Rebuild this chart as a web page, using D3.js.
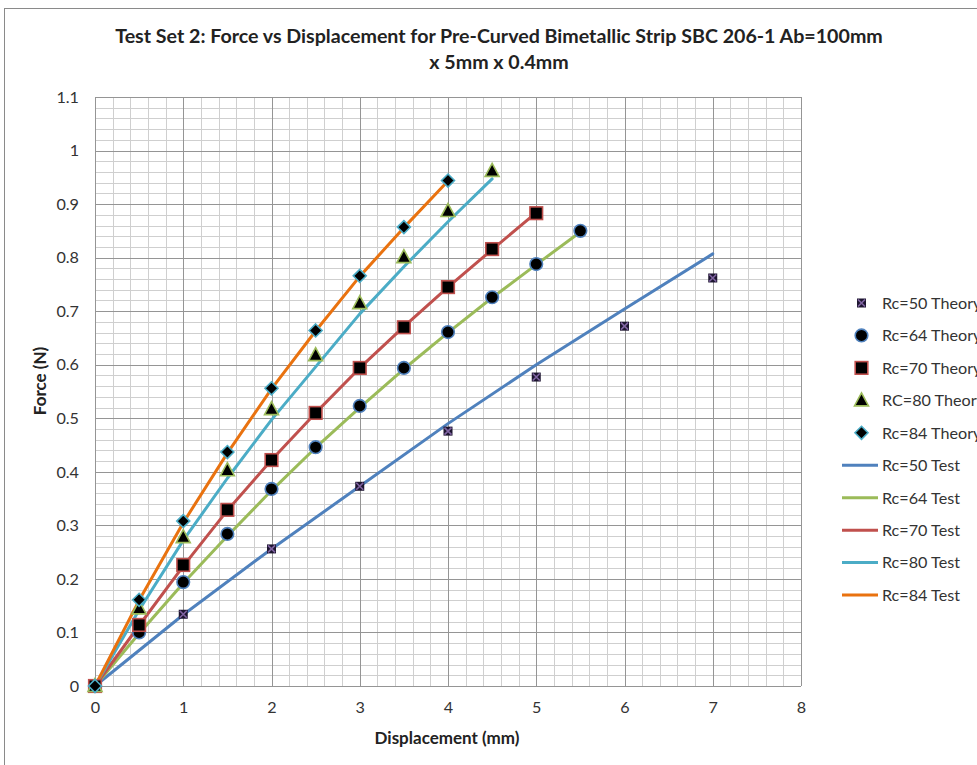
<!DOCTYPE html>
<html><head><meta charset="utf-8">
<script src="https://cdn.jsdelivr.net/npm/d3@7"></script>
<style>body{margin:0;background:#fff;} svg{display:block;font-family:Lato,"Open Sans",sans-serif;}</style>
</head><body>
<svg id="c" width="977" height="765"></svg>
<script>
// ---- data ----
const titleLines = ["Test Set 2: Force vs Displacement for Pre-Curved Bimetallic Strip SBC 206-1 Ab=100mm", "x 5mm x 0.4mm"];
const xTicks = [0,1,2,3,4,5,6,7,8];
const yTicks = [0,0.1,0.2,0.3,0.4,0.5,0.6,0.7,0.8,0.9,1,1.1];
const yTickLabels = ["0","0.1","0.2","0.3","0.4","0.5","0.6","0.7","0.8","0.9","1","1.1"];

const theory50X = [0,1,2,3,4,5,6,7];
const theory50Y = [0,0.134,0.256,0.373,0.476,0.577,0.672,0.762];
const theory64X = [0,0.5,1,1.5,2,2.5,3,3.5,4,4.5,5,5.5];
const theory64Y = [0,0.100,0.194,0.284,0.368,0.446,0.523,0.594,0.661,0.726,0.788,0.850];
const theory70X = [0,0.5,1,1.5,2,2.5,3,3.5,4,4.5,5];
const theory70Y = [0,0.114,0.226,0.329,0.422,0.510,0.594,0.670,0.745,0.816,0.883];
const theory80X = [0,0.5,1,1.5,2,2.5,3,3.5,4,4.5];
const theory80Y = [0,0.145,0.278,0.403,0.517,0.618,0.715,0.801,0.887,0.962];
const theory84X = [0,0.5,1,1.5,2,2.5,3,3.5,4];
const theory84Y = [0,0.161,0.308,0.437,0.556,0.664,0.766,0.857,0.944];

const test50X = [0,1,2,3,4,5,6,7];
const test50Y = [0,0.133,0.256,0.373,0.490,0.600,0.704,0.807];
const test64X = [0,0.5,1,1.5,2,2.5,3,3.5,4,4.5,5,5.5];
const test64Y = [0,0.098,0.192,0.280,0.365,0.445,0.520,0.592,0.660,0.725,0.787,0.848];
const test70X = [0,0.5,1,1.5,2,2.5,3,3.5,4,4.5,5];
const test70Y = [0,0.113,0.224,0.328,0.422,0.510,0.594,0.671,0.745,0.815,0.884];
const test80X = [0,0.5,1,1.5,2,2.5,3,3.5,4,4.5];
const test80Y = [0,0.142,0.272,0.388,0.497,0.596,0.695,0.783,0.867,0.947];
const test84X = [0,0.5,1,1.5,2,2.5,3,3.5,4];
const test84Y = [0,0.160,0.305,0.435,0.555,0.663,0.765,0.856,0.943];

const theoryNames = ["Rc=50 Theory","Rc=64 Theory","Rc=70 Theory","RC=80 Theory","Rc=84 Theory"];
const testNames = ["Rc=50 Test","Rc=64 Test","Rc=70 Test","Rc=80 Test","Rc=84 Test"];
const lineColors = ["#4F81BD","#9BBB59","#C0504D","#4BACC6","#E9720F"];
const markerStrokes = ["#8064A2","#4F81BD","#C0504D","#9BBB59","#4BACC6"];
const markerTypes = ["xsquare","circle","square","triangle","diamond"];

// ---- build ----
const zip = (xs, ys) => xs.map((x,i)=>({x, y: ys[i]}));
const theory = [zip(theory50X,theory50Y),zip(theory64X,theory64Y),zip(theory70X,theory70Y),zip(theory80X,theory80Y),zip(theory84X,theory84Y)];
const tests = [zip(test50X,test50Y),zip(test64X,test64Y),zip(test70X,test70Y),zip(test80X,test80Y),zip(test84X,test84Y)];

const svg = d3.select("#c");
const L = 95, R = 801, T = 97, B = 686;
const x = d3.scaleLinear().domain([0,8]).range([L,R]);
const y = d3.scaleLinear().domain([0,1.1]).range([B,T]);

function fitWidth(sel, baseSize, target){
  const w = sel.node().getComputedTextLength();
  return w > 0 ? baseSize*target/w : baseSize;
}

// chart frame
svg.append("rect").attr("x",4.5).attr("y",8.5).attr("width",1000).attr("height",800)
  .attr("fill","#fff").attr("stroke","#8a8a8a").attr("stroke-width",1);

// minor grid
const g = svg.append("g");
const minorX = d3.range(0,41).map(i=>i*0.2);
const minorY = d3.range(0,56).map(i=>i*0.02);
g.selectAll("line.mx").data(minorX).join("line")
  .attr("x1",d=>Math.round(x(d))+0.5).attr("x2",d=>Math.round(x(d))+0.5).attr("y1",T).attr("y2",B)
  .attr("stroke","#cfcfcf").attr("stroke-width",1);
g.selectAll("line.my").data(minorY).join("line")
  .attr("y1",d=>Math.round(y(d))+0.5).attr("y2",d=>Math.round(y(d))+0.5).attr("x1",L).attr("x2",R)
  .attr("stroke","#cfcfcf").attr("stroke-width",1);
// major grid
g.selectAll("line.Mx").data(xTicks).join("line")
  .attr("x1",d=>Math.round(x(d))+0.5).attr("x2",d=>Math.round(x(d))+0.5).attr("y1",T).attr("y2",B)
  .attr("stroke","#959595").attr("stroke-width",1);
g.selectAll("line.My").data(yTicks).join("line")
  .attr("y1",d=>Math.round(y(d))+0.5).attr("y2",d=>Math.round(y(d))+0.5).attr("x1",L).attr("x2",R)
  .attr("stroke","#959595").attr("stroke-width",1);

// legend font size measured from a sample
const probe = svg.append("text").attr("font-size",15).text(testNames[0]);
const legFont = fitWidth(probe, 15, 78);
probe.remove();

// axes (tick labels only)
const xAxis = d3.axisBottom(x).tickValues(xTicks).tickFormat(d3.format("d")).tickSize(0).tickPadding(16);
const yAxis = d3.axisLeft(y).tickValues(yTicks).tickFormat((d,i)=>yTickLabels[i]).tickSize(0).tickPadding(16);
const gx = svg.append("g").attr("transform",`translate(0,${B})`).call(xAxis);
const gy = svg.append("g").attr("transform",`translate(${L},0)`).call(yAxis);
[gx,gy].forEach(a=>{a.select(".domain").remove();
  a.selectAll("text").attr("font-size",legFont).attr("fill","#333").attr("font-family","Lato,'Open Sans',sans-serif");});

// axis titles
const xt = svg.append("text").attr("x",447).attr("y",744).attr("text-anchor","middle")
  .attr("font-size",15).attr("font-weight","bold").attr("fill","#222").text("Displacement (mm)");
const axFont = fitWidth(xt, 15, 145);
xt.attr("font-size", axFont);
svg.append("text").attr("transform","translate(46,381) rotate(-90)").attr("text-anchor","middle")
  .attr("font-size",axFont).attr("font-weight","bold").attr("fill","#222").text("Force (N)");

// title
const tt = svg.append("text").attr("text-anchor","middle").attr("font-weight","bold").attr("font-size",18).attr("fill","#222");
tt.append("tspan").attr("x",499).attr("y",43).text(titleLines[0]);
tt.append("tspan").attr("x",499).attr("y",69).text(titleLines[1]);
tt.attr("font-size", fitWidth(tt.select("tspan"), 18, 768));

// lines
const line = d3.line().x(d=>x(d.x)).y(d=>y(d.y));
svg.append("g").selectAll("path").data(tests).join("path")
  .attr("d",line).attr("fill","none").attr("stroke",(d,i)=>lineColors[i]).attr("stroke-width",3)
  .attr("stroke-linejoin","round").attr("stroke-linecap","round");

// markers
function drawMarker(sel, type, color){
  if(type==="xsquare"){
    sel.append("rect").attr("x",-4.5).attr("y",-4.5).attr("width",9).attr("height",9).attr("fill","#1d1530");
    sel.append("path").attr("d","M-3.5,-3.5L3.5,3.5M-3.5,3.5L3.5,-3.5").attr("stroke",color).attr("stroke-width",1.6);
  } else if(type==="circle"){
    sel.append("circle").attr("r",6.3).attr("fill","#000").attr("stroke",color).attr("stroke-width",1.6);
  } else if(type==="square"){
    sel.append("rect").attr("x",-6.3).attr("y",-6.3).attr("width",12.6).attr("height",12.6).attr("fill","#000").attr("stroke",color).attr("stroke-width",1.6);
  } else if(type==="triangle"){
    sel.append("path").attr("d","M0,-7.5L7,5.5L-7,5.5Z").attr("fill","#000").attr("stroke",color).attr("stroke-width",1.6);
  } else if(type==="diamond"){
    sel.append("path").attr("d","M0,-6.5L6.5,0L0,6.5L-6.5,0Z").attr("fill","#000").attr("stroke",color).attr("stroke-width",1.6);
  }
}
theory.forEach((pts,i)=>{
  svg.append("g").selectAll("g").data(pts).join("g")
    .attr("transform",d=>`translate(${x(d.x)},${y(d.y)})`)
    .each(function(){ drawMarker(d3.select(this), markerTypes[i], markerStrokes[i]); });
});

// legend
const leg = svg.append("g");
const legItems = theoryNames.map((n,i)=>({name:n,kind:"m",i})).concat(testNames.map((n,i)=>({name:n,kind:"l",i})));
legItems.forEach((it,k)=>{
  const cy = 303 + k*32.45;
  const gi = leg.append("g").attr("transform",`translate(0,${cy})`);
  if(it.kind==="m"){
    const gm = gi.append("g").attr("transform","translate(861.5,0)");
    drawMarker(gm, markerTypes[it.i], markerStrokes[it.i]);
  } else {
    gi.append("line").attr("x1",842).attr("x2",878).attr("y1",0).attr("y2",0)
      .attr("stroke",lineColors[it.i]).attr("stroke-width",3);
  }
  gi.append("text").attr("x",882).attr("y",legFont*0.36).attr("font-size",legFont).attr("fill","#333").text(it.name);
});
</script>
</body></html>
